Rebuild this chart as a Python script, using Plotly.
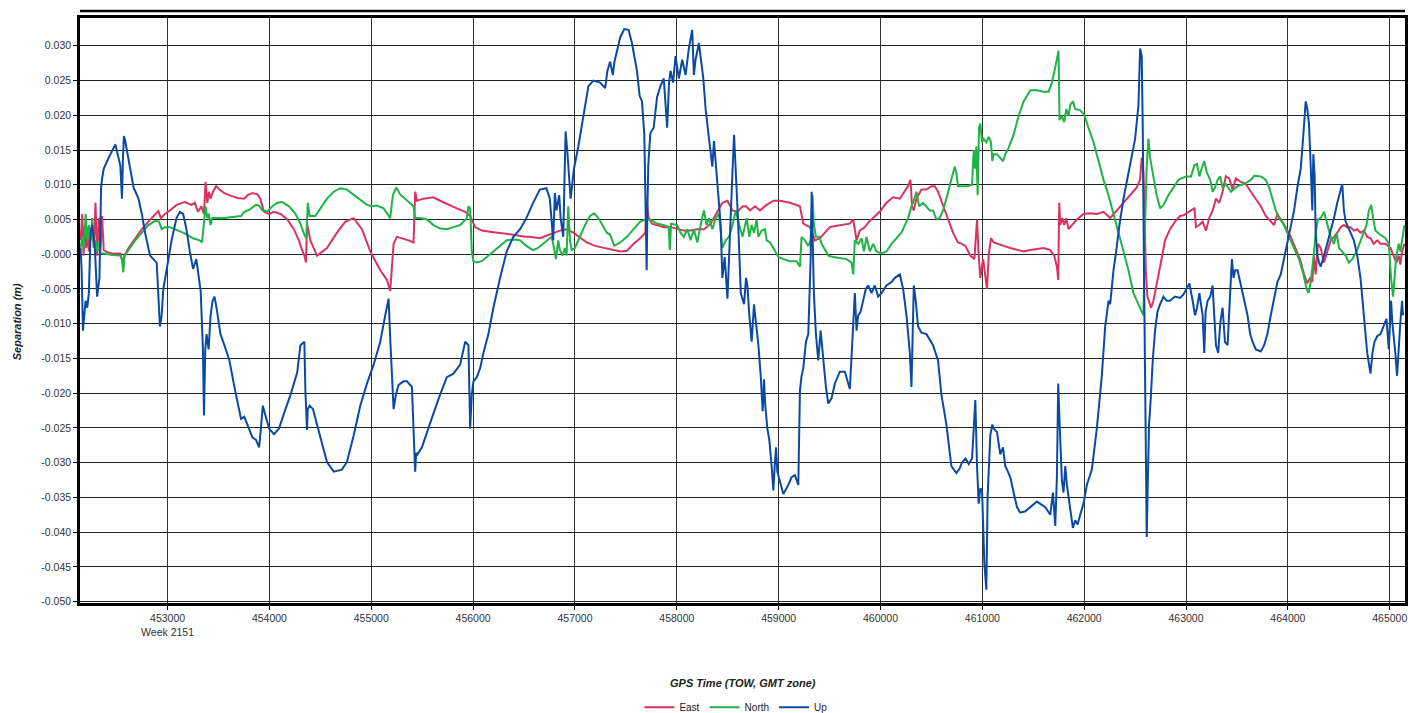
import plotly.graph_objects as go

# GPS time of week (s) and separation (mm)
up_tow = [452146, 452156, 452169, 452195, 452211, 452227, 452244, 452260, 452286, 452308, 452331, 452347, 452357, 452373,
          452422, 452487, 452536, 452552, 452562, 452571, 452584, 452610, 452633, 452666, 452714, 452747, 452779, 452828,
          452893, 452909, 452925, 452942, 452958, 452990, 453039, 453088, 453120, 453153, 453185, 453218, 453250, 453282,
          453299, 453325, 453347, 453357, 453370, 453383, 453403, 453422, 453442, 453461, 453487, 453519, 453558, 453607,
          453656, 453721, 453753, 453802, 453834, 453867, 453899, 453916, 453935, 453964, 453997, 454045, 454094, 454143,
          454208, 454273, 454304, 454343, 454353, 454369, 454376, 454395, 454428, 454467, 454516, 454565, 454631, 454712,
          454761, 454827, 454892, 454958, 455023, 455088, 455137, 455170, 455186, 455203, 455219, 455242, 455268, 455317,
          455350, 455399, 455422, 455431, 455441, 455454, 455497, 455546, 455611, 455676, 455742, 455807, 455873, 455922,
          455954, 455971, 455987, 456003, 456036, 456069, 456101, 456150, 456199, 456265, 456330, 456395, 456461, 456523,
          456589, 456655, 456720, 456753, 456786, 456803, 456819, 456845, 456859, 456885, 456908, 456924, 456941, 456957,
          456974, 456990, 457033, 457082, 457132, 457181, 457247, 457296, 457319, 457345, 457372, 457388, 457411, 457444,
          457484, 457526, 457559, 457609, 457635, 457658, 457681, 457694, 457704, 457711, 457720, 457740, 457773, 457806,
          457839, 457872, 457905, 457924, 457938, 457964, 457987, 458020, 458053, 458086, 458118, 458151, 458168, 458184,
          458217, 458260, 458283, 458316, 458349, 458365, 458382, 458405, 458431, 458447, 458470, 458497, 458523, 458546,
          458562, 458579, 458602, 458628, 458660, 458680, 458693, 458712, 458735, 458758, 458778, 458801, 458824, 458843,
          458856, 458869, 458889, 458908, 458931, 458948, 458961, 458974, 458987, 459013, 459046, 459095, 459127, 459160,
          459193, 459209, 459225, 459242, 459268, 459291, 459314, 459324, 459333, 459346, 459366, 459389, 459412, 459438,
          459464, 459487, 459520, 459552, 459601, 459650, 459699, 459725, 459748, 459765, 459781, 459804, 459830, 459856,
          459879, 459912, 459944, 459977, 460010, 460059, 460108, 460141, 460190, 460222, 460255, 460288, 460304, 460314,
          460327, 460346, 460369, 460402, 460451, 460516, 460565, 460598, 460647, 460696, 460745, 460778, 460800, 460835,
          460866, 460899, 460931, 460948, 460964, 460980, 460997, 461020, 461039, 461052, 461065, 461078, 461098, 461111,
          461144, 461176, 461203, 461225, 461242, 461275, 461307, 461340, 461373, 461422, 461471, 461536, 461618, 461667,
          461693, 461716, 461732, 461745, 461755, 461765, 461781, 461797, 461814, 461830, 461846, 461863, 461889, 461912,
          461935, 461961, 461993, 462026, 462075, 462124, 462173, 462206, 462239, 462255, 462271, 462288, 462314, 462346,
          462386, 462435, 462467, 462500, 462533, 462549, 462565, 462575, 462588, 462601, 462614, 462624, 462637, 462654,
          462673, 462696, 462719, 462745, 462778, 462810, 462843, 462892, 462941, 462975, 463000, 463033, 463065, 463088,
          463108, 463131, 463163, 463179, 463192, 463212, 463238, 463261, 463277, 463294, 463316, 463336, 463359, 463382,
          463408, 463434, 463450, 463467, 463483, 463506, 463538, 463571, 463604, 463630, 463653, 463685, 463734, 463767,
          463799, 463832, 463865, 463897, 463930, 463962, 463995, 464028, 464061, 464093, 464126, 464152, 464175, 464191,
          464207, 464224, 464240, 464250, 464263, 464273, 464289, 464306, 464322, 464355, 464387, 464420, 464453, 464485,
          464511, 464534, 464550, 464567, 464583, 464615, 464648, 464681, 464713, 464746, 464779, 464811, 464831, 464850,
          464877, 464909, 464942, 464968, 464991, 465000, 465013, 465026, 465039, 465055, 465072, 465088, 465104, 465121,
          465131, 465144]
up_mm = [0.9, -2.3, -11.0, -6.7, -7.7, -5.6, 3.1, 4.2, 0.9, -6.1, -3.4, 9.6, 10.9, 12.3,
         13.9, 15.8, 12.8, 8.0, 13.9, 17.0, 16.3, 14.2, 12.3, 9.6, 8.0, 5.8, 3.1, -0.2,
         -1.2, -5.6, -10.4, -8.8, -5.0, -2.3, 2.0, 5.2, 6.1, 5.8, 3.6, 0.4, -2.1, -0.7,
         -2.3, -5.3, -13.7, -23.2, -13.7, -11.5, -13.7, -8.8, -6.7, -6.1, -8.3, -11.5, -13.1, -15.3,
         -19.1, -23.7, -23.4, -25.1, -26.4, -26.7, -27.8, -25.1, -21.8, -23.4, -25.1, -25.9, -25.1, -22.9,
         -20.2, -17.0, -13.1, -12.6, -19.6, -25.3, -22.3, -21.8, -22.3, -24.5, -27.2, -29.9, -31.3, -31.0,
         -29.9, -26.1, -21.8, -18.6, -15.9, -12.6, -8.8, -6.4, -12.1, -18.6, -22.3, -20.2, -18.8, -18.3,
         -18.3, -19.1, -29.4, -31.3, -28.6, -28.8, -27.8, -25.6, -22.9, -20.2, -17.7, -17.2, -15.9, -12.6,
         -13.1, -25.1, -20.2, -18.3, -17.7, -16.4, -14.2, -11.5, -7.7, -3.4, 0.4, 2.5, 3.6, 5.2,
         7.4, 9.3, 9.5, 8.0, 2.0, 8.8, 6.3, 8.5, 5.2, 2.5, 17.7, 15.0, 11.2, 8.0,
         10.1, 12.3, 15.5, 19.9, 24.2, 25.0, 24.7, 23.9, 26.4, 27.7, 25.8, 27.7, 29.1, 31.2,
         32.4, 32.3, 30.4, 26.4, 22.8, 22.0, 17.2, 7.4, -2.3, 6.3, 12.8, 17.4, 18.2, 22.6,
         24.2, 25.3, 18.2, 24.7, 26.4, 24.7, 28.5, 25.3, 28.0, 25.8, 29.6, 32.3, 25.8, 28.0,
         30.4, 25.3, 20.9, 16.6, 12.6, 16.3, 12.8, 9.0, 4.2, -3.4, -0.4, -6.4, 2.0, 11.7,
         17.2, 12.3, 4.7, -5.6, -7.2, -3.4, -4.5, -8.8, -12.6, -7.2, -9.9, -13.1, -17.5, -22.6,
         -18.0, -21.8, -25.1, -26.7, -30.5, -34.0, -30.5, -27.8, -31.3, -32.6, -34.5, -33.2, -32.1, -31.8,
         -33.2, -19.6, -17.5, -16.4, -12.6, -11.5, -0.7, 9.0, 0.9, -5.6, -11.5, -15.3, -11.0, -15.3,
         -19.1, -21.5, -20.7, -18.6, -16.9, -16.9, -19.4, -12.1, -5.6, -11.0, -8.8, -8.3, -6.7, -5.0,
         -4.5, -5.6, -4.5, -6.1, -5.6, -4.5, -4.0, -3.4, -2.9, -5.0, -8.8, -14.2, -19.1, -13.1,
         -4.5, -6.7, -10.4, -11.3, -11.5, -13.1, -15.3, -20.2, -24.5, -30.5, -31.5, -30.8, -30.0, -29.4,
         -30.2, -29.4, -21.0, -30.5, -35.9, -33.7, -34.0, -44.5, -48.3, -34.8, -30.5, -26.1, -24.5, -25.1,
         -25.6, -28.8, -27.8, -30.5, -31.0, -32.1, -34.3, -36.4, -37.2, -37.0, -36.4, -35.6, -36.4, -37.5,
         -34.3, -39.1, -32.1, -18.6, -22.9, -27.8, -32.6, -34.3, -30.5, -33.2, -34.8, -37.0, -39.4, -38.3,
         -38.9, -37.5, -35.9, -33.2, -31.0, -25.1, -17.5, -10.4, -6.7, -7.2, -4.5, -2.3, 0.4, 4.2,
         8.0, 11.7, 13.9, 16.6, 21.5, 29.6, 28.5, 18.2, -3.4, -25.1, -40.7, -33.2, -24.5, -20.7,
         -15.3, -11.0, -8.3, -7.2, -6.1, -6.7, -6.7, -6.1, -6.3, -5.8, -5.0, -4.2, -6.7, -8.8,
         -7.7, -5.6, -8.8, -14.2, -8.3, -6.7, -6.1, -4.5, -8.8, -13.1, -14.2, -9.9, -7.7, -12.6,
         -13.1, -5.0, -0.7, -3.4, -2.3, -2.3, -4.5, -6.7, -8.8, -11.5, -12.6, -13.7, -14.0, -13.1,
         -11.5, -8.8, -6.1, -4.0, -2.9, -0.7, 1.5, 3.6, 6.3, 9.6, 12.3, 17.2, 22.0, 20.9,
         18.8, 12.8, 6.3, 14.4, 11.2, 3.1, -0.2, -1.2, -1.8, -0.2, 1.5, 3.1, 5.2, 7.4,
         9.0, 10.1, 6.3, 4.7, 4.2, 3.1, 2.0, -0.2, -3.4, -8.8, -14.2, -17.2, -14.2, -12.6,
         -11.8, -11.5, -10.4, -9.3, -13.7, -10.4, -6.7, -9.9, -11.5, -14.2, -17.5, -13.1, -9.9, -6.7,
         -8.8]

north_tow = [452146, 452162, 452178, 452195, 452211, 452227, 452244, 452260, 452276, 452292, 452308, 452325, 452341,
             452373, 452455, 452536, 452552, 452565, 452578, 452617, 452682, 452747, 452812, 452877, 452916, 452942,
             452974, 453023, 453088, 453169, 453250, 453315, 453338, 453357, 453373, 453390, 453406, 453422, 453438,
             453477, 453558, 453656, 453721, 453753, 453802, 453867, 453899, 453932, 453981, 454029, 454078, 454127,
             454192, 454256, 454304, 454343, 454363, 454376, 454395, 454451, 454500, 454565, 454631, 454696, 454761,
             454827, 454892, 454958, 455007, 455056, 455121, 455160, 455186, 455212, 455245, 455284, 455350, 455415,
             455431, 455480, 455546, 455611, 455676, 455742, 455807, 455873, 455938, 455954, 455971, 455987, 456003,
             456036, 456085, 456134, 456199, 456265, 456330, 456395, 456461, 456523, 456589, 456638, 456704, 456770,
             456786, 456813, 456836, 456852, 456878, 456901, 456918, 456934, 456951, 456967, 457000, 457049, 457099,
             457148, 457188, 457230, 457280, 457313, 457345, 457362, 457385, 457444, 457510, 457576, 457641, 457691,
             457740, 457806, 457872, 457921, 457931, 457944, 458003, 458036, 458069, 458102, 458135, 458168, 458201,
             458234, 458266, 458293, 458316, 458349, 458382, 458414, 458447, 458480, 458513, 458546, 458579, 458612,
             458645, 458686, 458712, 458735, 458758, 458784, 458801, 458833, 458866, 458882, 458915, 458948, 458997,
             459046, 459111, 459176, 459209, 459225, 459258, 459291, 459314, 459333, 459346, 459366, 459399, 459422,
             459454, 459487, 459536, 459601, 459667, 459716, 459732, 459748, 459781, 459814, 459837, 459863, 459895,
             459928, 459961, 460010, 460059, 460108, 460157, 460206, 460239, 460271, 460304, 460320, 460353, 460379,
             460418, 460451, 460484, 460516, 460549, 460582, 460614, 460647, 460680, 460712, 460729, 460745, 460761,
             460794, 460850, 460899, 460915, 460928, 460941, 460954, 460967, 460980, 460997, 461013, 461039, 461062,
             461085, 461098, 461111, 461144, 461176, 461203, 461225, 461258, 461307, 461356, 461405, 461471, 461536,
             461601, 461650, 461683, 461716, 461739, 461748, 461758, 461781, 461804, 461824, 461846, 461863, 461889,
             461912, 461961, 462000, 462042, 462092, 462141, 462190, 462239, 462288, 462337, 462386, 462435, 462484,
             462533, 462565, 462582, 462598, 462614, 462631, 462647, 462673, 462712, 462745, 462778, 462827, 462876,
             462925, 462965, 463000, 463049, 463082, 463108, 463131, 463153, 463179, 463205, 463238, 463261, 463284,
             463310, 463336, 463359, 463391, 463440, 463506, 463571, 463636, 463669, 463734, 463783, 463816, 463848,
             463881, 463914, 463962, 464011, 464061, 464109, 464152, 464184, 464204, 464224, 464250, 464273, 464295,
             464322, 464355, 464387, 464420, 464453, 464479, 464502, 464534, 464567, 464599, 464632, 464675, 464713,
             464746, 464772, 464795, 464818, 464837, 464860, 464909, 464958, 464991, 465013, 465033, 465046, 465065,
             465088, 465104, 465121, 465144]
north_mm = [0.9, 2.5, 0.9, 5.8, 2.0, 4.2, 2.0, 5.2, 0.9, 2.0, 0.4, 1.5, 0.1,
            0.1, -0.1, -0.2, -0.7, -2.6, -0.2, 0.6, 2.0, 3.1, 4.2, 4.8, 4.7, 3.6,
            3.9, 3.9, 3.5, 3.0, 2.3, 2.0, 1.7, 4.2, 6.9, 5.2, 5.8, 4.2, 5.2,
            5.2, 5.2, 5.4, 5.5, 6.1, 6.4, 7.1, 7.0, 6.3, 6.2, 6.9, 7.4, 7.5,
            6.9, 5.8, 4.4, 2.8, 2.3, 7.4, 5.5, 5.5, 6.6, 8.0, 9.0, 9.5, 9.3,
            8.6, 7.8, 7.1, 6.9, 7.0, 6.6, 5.8, 5.2, 8.5, 9.6, 8.6, 7.7, 6.9,
            5.2, 5.2, 5.0, 4.2, 3.7, 3.6, 3.9, 4.2, 5.2, 6.9, 6.6, 0.4, -1.0,
            -1.2, -1.0, -0.4, 0.4, 1.2, 2.0, 2.1, 2.0, 1.2, 0.6, 0.9, 1.7, 2.5,
            1.5, -0.7, 2.0, 0.6, -0.2, 0.9, -0.2, 6.9, 2.0, 0.6, 0.9, 2.5, 4.2,
            5.5, 5.9, 5.2, 3.9, 3.1, 2.8, 2.0, 1.2, 1.7, 2.5, 3.6, 4.7, 5.0,
            5.0, 4.4, 4.2, 3.9, 0.6, 4.4, 4.2, 3.1, 2.5, 3.6, 2.0, 3.6, 1.7,
            4.2, 6.3, 4.2, 5.2, 3.6, 5.2, 5.8, 0.9, 2.0, 2.5, 4.2, 6.3, 4.2,
            2.5, 5.2, 2.5, 4.2, 3.1, 5.0, 2.5, 3.4, 3.6, 2.0, 1.7, 0.9, -0.4,
            -0.7, -1.0, -1.0, -1.8, 2.5, 2.0, 1.2, 2.0, 8.5, 4.2, 2.5, 2.5, 1.5,
            0.6, -0.2, -0.4, -0.6, -0.7, -1.2, -2.9, 2.0, 1.5, 2.3, 0.4, 2.5, 0.4,
            1.5, 0.4, 0.1, 0.4, 1.5, 2.3, 3.1, 4.2, 5.2, 6.9, 7.4, 9.0, 6.9,
            7.4, 6.9, 6.3, 6.3, 5.0, 5.2, 6.3, 8.0, 10.1, 11.7, 12.6, 11.7, 9.8,
            9.8, 9.8, 10.0, 15.0, 12.3, 15.5, 8.5, 18.2, 18.8, 16.1, 16.6, 16.1, 16.9,
            16.1, 13.4, 14.4, 14.4, 13.9, 13.4, 14.4, 15.3, 17.2, 19.9, 22.0, 23.6, 23.6,
            23.4, 23.4, 24.7, 26.9, 29.1, 29.3, 19.3, 19.9, 19.0, 20.9, 19.9, 21.5, 22.0,
            20.9, 20.7, 20.1, 18.2, 16.1, 13.4, 10.7, 8.5, 5.8, 3.1, 0.4, -2.3, -5.6,
            -7.2, -8.5, -8.8, 4.2, 12.8, 16.6, 13.9, 11.7, 8.5, 6.6, 7.1, 8.5, 9.6,
            10.7, 11.0, 11.2, 11.2, 12.8, 13.0, 11.2, 12.3, 13.4, 11.7, 10.7, 9.0, 9.6,
            10.7, 11.2, 9.6, 10.1, 9.0, 9.8, 10.1, 10.7, 11.3, 11.2, 10.7, 9.6, 8.0,
            6.3, 5.2, 4.2, 2.5, 0.9, -0.7, -2.9, -5.0, -5.6, -4.0, -0.7, 3.1, 5.0,
            5.2, 6.1, 4.4, 2.5, 1.5, 3.1, 0.9, 0.4, -0.2, -1.2, -0.7, 0.4, 2.0,
            3.1, 4.2, 6.3, 7.1, 5.2, 3.4, 2.8, 2.3, 1.5, -3.4, -6.1, -3.4, -0.2,
            1.5, 0.4, 2.0, 4.2]

east_tow = [452146, 452162, 452175, 452188, 452201, 452214, 452227, 452244, 452260, 452276, 452292, 452308, 452325,
            452341, 452357, 452373, 452406, 452455, 452536, 452558, 452578, 452617, 452682, 452747, 452812, 452860,
            452909, 452935, 452974, 453023, 453088, 453169, 453234, 453266, 453299, 453331, 453357, 453373, 453390,
            453406, 453422, 453445, 453477, 453510, 453558, 453623, 453688, 453753, 453786, 453834, 453883, 453909,
            453948, 453997, 454045, 454110, 454175, 454240, 454289, 454321, 454343, 454359, 454369, 454402, 454467,
            454565, 454663, 454745, 454827, 454908, 454990, 455088, 455154, 455186, 455219, 455252, 455301, 455366,
            455415, 455431, 455448, 455513, 455562, 455611, 455676, 455758, 455840, 455922, 455971, 456020, 456085,
            456183, 456297, 456395, 456510, 456556, 456655, 456720, 456786, 456852, 456918, 456984, 457049, 457115,
            457197, 457280, 457362, 457444, 457510, 457576, 457641, 457691, 457707, 457724, 457757, 457806, 457872,
            457938, 458003, 458069, 458135, 458201, 458266, 458332, 458398, 458447, 458497, 458546, 458595, 458645,
            458680, 458719, 458768, 458817, 458882, 458948, 459013, 459111, 459209, 459242, 459307, 459356, 459405,
            459454, 459503, 459569, 459634, 459699, 459732, 459765, 459797, 459846, 459895, 459944, 459993, 460059,
            460124, 460190, 460239, 460271, 460294, 460310, 460327, 460353, 460402, 460451, 460500, 460533, 460565,
            460614, 460663, 460712, 460761, 460800, 460833, 460882, 460922, 460948, 460964, 460980, 461007, 461029,
            461046, 461062, 461085, 461111, 461160, 461209, 461275, 461340, 461405, 461471, 461536, 461601, 461667,
            461706, 461732, 461745, 461755, 461765, 461784, 461804, 461824, 461846, 461879, 461928, 461993, 462059,
            462124, 462190, 462255, 462320, 462386, 462451, 462516, 462549, 462565, 462582, 462591, 462605, 462621,
            462641, 462657, 462680, 462712, 462745, 462794, 462843, 462892, 462941, 462975, 463000, 463049, 463082,
            463098, 463131, 463163, 463196, 463228, 463261, 463294, 463326, 463359, 463391, 463424, 463457, 463489,
            463538, 463587, 463636, 463685, 463734, 463783, 463832, 463865, 463897, 463930, 463979, 464028, 464077,
            464119, 464159, 464191, 464217, 464240, 464256, 464273, 464295, 464322, 464355, 464387, 464420, 464453,
            464485, 464518, 464550, 464583, 464615, 464648, 464681, 464713, 464746, 464779, 464811, 464844, 464877,
            464909, 464958, 465007, 465039, 465065, 465088, 465104, 465121, 465144]
east_mm = [2.0, 5.8, -0.2, 4.2, 0.9, 3.1, 0.4, 2.0, 4.2, 0.9, 7.4, -0.2, 5.2,
           0.4, 5.5, 0.6, 0.3, 0.1, 0.1, -1.2, -0.2, 0.9, 2.3, 3.6, 4.7, 5.5,
           6.2, 5.2, 5.8, 6.3, 7.1, 7.5, 7.1, 7.4, 6.1, 6.9, 5.8, 10.4, 7.4,
           9.0, 8.0, 9.0, 9.8, 9.3, 8.8, 8.4, 8.1, 8.0, 8.5, 8.8, 8.6, 8.0,
           6.1, 5.8, 6.1, 5.8, 5.0, 3.6, 2.0, 0.6, -0.2, -1.2, 4.4, 2.0, -0.2,
           0.9, 3.1, 4.7, 5.2, 3.6, 0.4, -2.3, -3.7, -5.3, 1.5, 2.5, 2.3, 2.0,
           1.7, 9.0, 7.7, 8.0, 8.1, 8.2, 7.7, 7.1, 6.6, 6.1, 5.5, 3.9, 3.4,
           3.2, 3.0, 2.8, 2.5, 2.5, 2.3, 2.7, 3.1, 3.4, 3.6, 3.1, 2.4, 1.7,
           1.2, 0.9, 0.6, 0.4, 0.5, 1.5, 2.3, 3.1, 7.4, 5.2, 4.4, 4.2, 3.9,
           3.9, 3.6, 3.4, 3.4, 3.6, 3.6, 4.4, 6.1, 7.4, 7.7, 6.3, 6.1, 6.9,
           6.9, 6.3, 6.9, 6.3, 7.1, 7.7, 7.7, 7.4, 6.9, 4.4, 3.9, 2.0, 2.3,
           3.1, 3.9, 4.1, 4.3, 4.4, 5.0, 2.0, 3.4, 3.9, 4.8, 5.5, 6.1, 7.4,
           8.2, 8.0, 9.0, 9.8, 10.7, 6.9, 6.3, 8.0, 9.3, 9.3, 9.8, 9.8, 9.0,
           7.1, 5.0, 3.1, 1.7, 1.5, 1.2, -0.2, -0.7, 5.0, -0.2, -3.4, -0.7, -2.9,
           -5.0, -0.2, 2.3, 1.7, 1.5, 1.2, 0.9, 0.6, 0.4, 0.6, 0.8, 0.9, 0.6,
           -0.2, -1.8, -3.7, 7.4, 4.2, 5.2, 4.2, 5.2, 3.6, 4.2, 5.0, 5.8, 5.9,
           5.8, 6.1, 5.2, 6.3, 7.4, 8.5, 9.6, 10.7, 13.9, 11.7, 4.2, -2.3, -6.1,
           -7.2, -7.7, -6.7, -4.5, -1.8, 2.0, 3.6, 4.7, 5.5, 5.6, 5.8, 6.3, 6.6,
           3.9, 4.2, 4.7, 3.4, 5.2, 6.3, 8.0, 7.4, 9.0, 11.2, 10.9, 9.3, 10.9,
           10.4, 10.1, 9.0, 8.0, 6.9, 5.5, 4.7, 4.2, 5.8, 5.0, 3.9, 2.5, 0.9,
           -0.7, -2.9, -4.2, -3.4, -4.0, -0.2, -2.9, 1.5, 0.9, -1.2, 0.4, 2.0, 2.5,
           3.1, 3.9, 4.2, 3.9, 3.9, 3.4, 3.6, 3.1, 3.4, 2.5, 2.3, 1.5, 2.0,
           1.5, 1.5, 0.9, -0.2, -1.2, -0.2, -1.5, 0.4, 1.5]

y_ticks = [0.030, 0.025, 0.020, 0.015, 0.010, 0.005, 0.0, -0.005, -0.010, -0.015, -0.020, -0.025,
           -0.030, -0.035, -0.040, -0.045, -0.050]
y_labels = ["0.030", "0.025", "0.020", "0.015", "0.010", "0.005", "-0.000", "-0.005", "-0.010", "-0.015",
            "-0.020", "-0.025", "-0.030", "-0.035", "-0.040", "-0.045", "-0.050"]
x_ticks = [453000, 454000, 455000, 456000, 457000, 458000, 459000, 460000, 461000, 462000, 463000, 464000, 465000]
x_labels = ["453000<br>Week 2151"] + [str(t) for t in x_ticks[1:]]

series = [
    ("East", east_tow, east_mm, "#d9335f"),
    ("North", north_tow, north_mm, "#1fb445"),
    ("Up", up_tow, up_mm, "#0b4aa2"),
]

fig = go.Figure()
for name, tow, mm, color in series:
    fig.add_trace(go.Scatter(
        x=tow, y=[v / 1000 for v in mm], name=name, mode="lines",
        line=dict(color=color, width=2),
    ))

FONT = "Liberation Sans, Arial, sans-serif"
fig.update_layout(
    width=1408, height=713,
    margin=dict(l=80, r=3, t=18, b=110, autoexpand=False),
    paper_bgcolor="white", plot_bgcolor="white",
    font=dict(family=FONT, size=11, color="#222"),
    showlegend=True,
    legend=dict(orientation="h", x=0.495, xanchor="center", y=-0.178, yanchor="middle",
                font=dict(size=10, color="#222"), itemwidth=30, tracegroupgap=0),
    hovermode=False,
    annotations=[
        dict(text="<b><i>GPS Time (TOW, GMT zone)</i></b>", xref="paper", yref="paper",
             x=0.5, y=-0.137, xanchor="center", yanchor="middle", showarrow=False,
             font=dict(size=11, color="#222")),
        dict(text="<b><i>Separation (m)</i></b>", xref="paper", yref="paper",
             x=-0.0475, y=0.48, xanchor="center", yanchor="middle", textangle=-90, showarrow=False,
             font=dict(size=11, color="#222")),
    ],
    shapes=[
        # second (outer) top border line
        dict(type="line", xref="paper", yref="paper", x0=0, x1=1, y0=1.012, y1=1.012,
             line=dict(color="black", width=2.5)),
    ],
)
fig.update_xaxes(
    range=[452140, 465150], tickvals=x_ticks, ticktext=x_labels, automargin=False,
    showgrid=True, gridcolor="#333", gridwidth=1, zeroline=False,
    showline=True, linecolor="black", linewidth=2.5, mirror=True,
    ticks="outside", ticklen=4, tickcolor="black",
    tickfont=dict(size=10.5, color="#333"),
)
fig.update_yaxes(
    range=[-0.0502, 0.034], tickvals=y_ticks, ticktext=y_labels, automargin=False,
    showgrid=True, gridcolor="#222", gridwidth=1, zeroline=False,
    showline=True, linecolor="black", linewidth=2.5, mirror=True,
    ticks="outside", ticklen=4, tickcolor="black",
    tickfont=dict(size=10.5, color="#333"),
)

# the page body has a default 8px margin; drop it so the figure fills the window exactly
fig.write_html("out.html", config={"displayModeBar": False},
               post_script="document.body.style.margin='0';")
